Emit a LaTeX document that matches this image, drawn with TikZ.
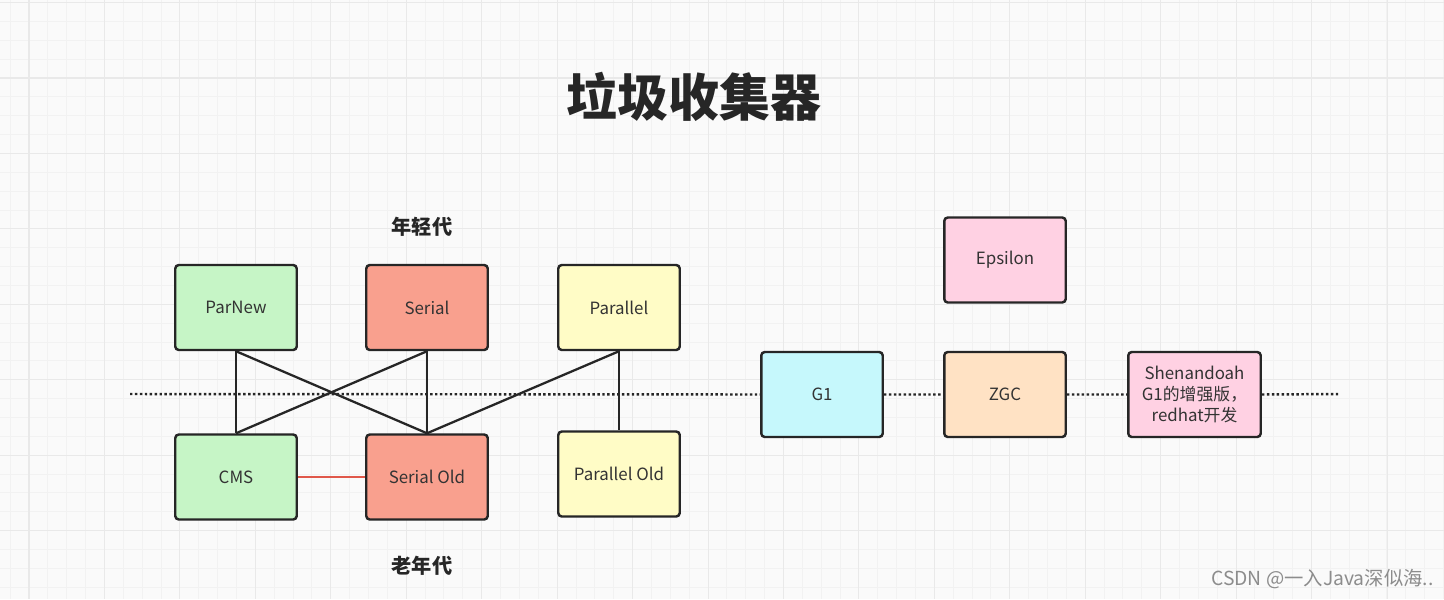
\documentclass[tikz,border=0pt]{standalone}
\usepackage{fontspec}
\setmainfont{Noto Sans CJK SC}
\definecolor{gridminor}{HTML}{F2F2F2}
\definecolor{gridmajor}{HTML}{E9E9E9}
\definecolor{ink}{HTML}{262626}
\definecolor{txt}{HTML}{333333}
\definecolor{youngG}{HTML}{C6F5C6}
\definecolor{serialR}{HTML}{F9A08E}
\definecolor{parY}{HTML}{FFFCC6}
\definecolor{gOneC}{HTML}{C6F8FC}
\definecolor{zgcO}{HTML}{FFE2C4}
\definecolor{epsP}{HTML}{FFD1E3}
\definecolor{cmsline}{HTML}{E0584A}
\begin{document}
\begin{tikzpicture}[x=0.02cm,y=-0.02cm,
  gc/.style={draw=ink,line width=1.4pt,rounded corners=2pt,minimum width=2.43cm,minimum height=1.7cm,
    text=txt,font=\fontsize{9.6}{12}\selectfont,align=center,inner sep=1pt},
  link/.style={draw=ink,line width=1.3pt},
  divider/.style={draw=ink,line width=1.4pt,dash pattern=on 1.4pt off 1.4pt},
  gen/.style={text=ink,font=\fontsize{11.5}{14}\selectfont\bfseries}]
\useasboundingbox (0,0) rectangle (1444,599);
\fill[white!98!black] (0,0) rectangle (1444,599);
% grid paper
\foreach \i in {0,...,77}
  \draw[gridminor,line width=0.5pt] (-8.72+18.86*\i,0) -- (-8.72+18.86*\i,599);
\foreach \j in {0,...,33}
  \draw[gridminor,line width=0.5pt] (0,-16.3+18.86*\j) -- (1444,-16.3+18.86*\j);
\foreach \i in {0,...,19}
  \draw[gridmajor,line width=0.6pt] (-46.45+75.45*\i,0) -- (-46.45+75.45*\i,599);
\foreach \j in {0,...,8}
  \draw[gridmajor,line width=0.6pt] (0,2.55+75.45*\j) -- (1444,2.55+75.45*\j);

\node[text=ink,font=\fontsize{29}{33}\selectfont\bfseries] (title) at (694,97) {垃圾收集器};
\node[gen] (young) at (422,227) {年轻代};
\node[gen] (old) at (422,566) {老年代};

% young generation
\node[gc,fill=youngG] (parnew) at (236,307.5) {ParNew};
\node[gc,fill=serialR] (serial) at (427,307.5) {Serial};
\node[gc,fill=parY] (parallel) at (619,307.5) {Parallel};
% old generation
\node[gc,fill=youngG] (cms) at (236,477) {CMS};
\node[gc,fill=serialR] (serialold) at (427,477) {Serial Old};
\node[gc,fill=parY] (parallelold) at (619,474) {Parallel Old};
% whole heap
\node[gc,fill=gOneC] (gone) at (822,394.5) {G1};
\node[gc,fill=zgcO] (zgc) at (1005,394.5) {ZGC};
\node[gc,fill=epsP] (epsilon) at (1005,260) {Epsilon};
\node[gc,fill=epsP,minimum width=2.65cm] (shen) at (1194.5,394.5) {Shenandoah\\G1的增强版，\\redhat开发};

\coordinate (lineL) at (130,394);
\coordinate (lineR) at (1340,394);
\draw[divider] (lineL) -- (gone.west) (gone.east) -- (zgc.west)
  (zgc.east) -- (shen.west) (shen.east) -- (lineR);

\draw[link] (parnew.south) -- (cms.north);
\draw[link] (parnew.south) -- (serialold.north);
\draw[link] (serial.south) -- (cms.north);
\draw[link] (serial.south) -- (serialold.north);
\draw[link] (parallel.south) -- (serialold.north);
\draw[link] (parallel.south) -- (parallelold.north);
\draw[cmsline,line width=1.2pt] (cms.east) -- (serialold.west);

\node[text=black!45,font=\fontsize{11}{13}\selectfont,anchor=west] (mark) at (1205,579) {CSDN @一入Java深似海..};
\end{tikzpicture}
\end{document}
